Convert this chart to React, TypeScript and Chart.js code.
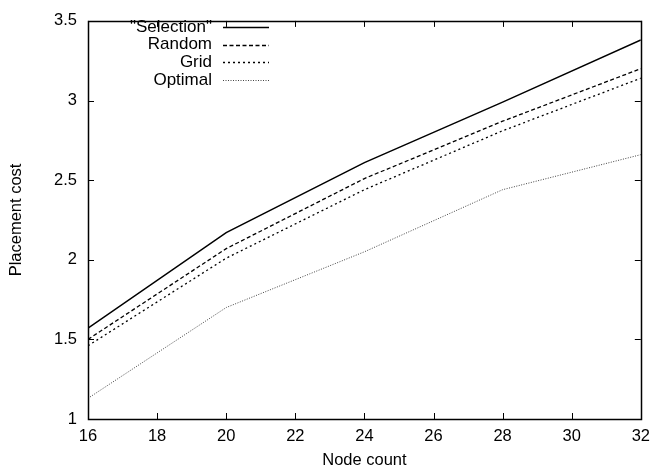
import React, { useEffect, useRef } from "react";
import { Chart, registerables } from "chart.js";

Chart.register(...registerables);

const nodeCounts = [16, 20, 24, 28, 32];
const selection = [1.57, 2.17, 2.61, 2.99, 3.38];
const random = [1.5, 2.07, 2.51, 2.87, 3.2];
const grid = [1.46, 2.01, 2.44, 2.81, 3.14];
const optimal = [1.13, 1.7, 2.05, 2.44, 2.66];

const seriesNames = ['"Selection"', "Random", "Grid", "Optimal"];
const xTickValues = [16, 18, 20, 22, 24, 26, 28, 30, 32];
const yTickValues = [1, 1.5, 2, 2.5, 3, 3.5];

const FONT = "Liberation Sans, Arial, sans-serif";
const FS = 16.5;
const LEGEND_FS = 17;

const framePlugin = {
  id: "frameTicks",
  afterDatasetsDraw(chart: any) {
    const { ctx, chartArea: a, scales } = chart;
    const x = scales.x;
    const y = scales.y;
    ctx.save();
    ctx.strokeStyle = "#000";
    ctx.lineWidth = 1;
    ctx.beginPath();
    const t = 6;
    xTickValues.forEach((v) => {
      const px = Math.round(x.getPixelForValue(v)) + 0.5;
      ctx.moveTo(px, a.bottom);
      ctx.lineTo(px, a.bottom - t);
      ctx.moveTo(px, a.top);
      ctx.lineTo(px, a.top + t);
    });
    yTickValues.forEach((v) => {
      const py = Math.round(y.getPixelForValue(v)) + 0.5;
      ctx.moveTo(a.left, py);
      ctx.lineTo(a.left + t, py);
      ctx.moveTo(a.right, py);
      ctx.lineTo(a.right - t, py);
    });
    ctx.stroke();
    ctx.lineWidth = 1.5;
    ctx.strokeRect(Math.round(a.left) + 0.5, Math.round(a.top) + 0.5, Math.round(a.right - a.left), Math.round(a.bottom - a.top));

    // legend
    const ds = chart.data.datasets;
    ctx.font = LEGEND_FS + "px " + FONT;
    ctx.textAlign = "right";
    ctx.textBaseline = "middle";
    ctx.fillStyle = "#000";
    const textRight = 212;
    const lineStart = 223;
    const lineEnd = 269;
    ds.forEach((d: any, i: number) => {
      const yy = 27 + i * 17.7;
      ctx.fillText(d.label, textRight, yy);
      ctx.save();
      ctx.strokeStyle = d.borderColor;
      ctx.lineWidth = d.borderWidth;
      ctx.setLineDash(d.borderDash || []);
      ctx.beginPath();
      ctx.moveTo(lineStart, Math.round(yy) + 0.5);
      ctx.lineTo(lineEnd, Math.round(yy) + 0.5);
      ctx.stroke();
      ctx.restore();
    });
    ctx.restore();
  },
};

export default function App() {
  const ref = useRef<HTMLCanvasElement>(null);
  useEffect(() => {
    if (!ref.current) return;
    const mk = (label: string, data: number[], dash: number[], width: number, color: string) => ({
      label,
      data: nodeCounts.map((n, i) => ({ x: n, y: data[i] })),
      borderColor: color,
      backgroundColor: color,
      borderWidth: width,
      borderDash: dash,
      pointRadius: 0,
      tension: 0,
      fill: false,
    });
    const chart = new Chart(ref.current, {
      type: "line",
      data: {
        datasets: [
          mk(seriesNames[0], selection, [], 1.5, "#000"),
          mk(seriesNames[1], random, [4, 2.5], 1.3, "#000"),
          mk(seriesNames[2], grid, [2, 3], 1.3, "#000"),
          mk(seriesNames[3], optimal, [1, 1.5], 1, "#444"),
        ],
      },
      options: {
        animation: false,
        responsive: false,
        layout: { padding: { top: 14, right: 14, left: 0, bottom: 0 } },
        plugins: { legend: { display: false }, tooltip: { enabled: false } },
        scales: {
          x: {
            type: "linear",
            min: 16,
            max: 32,
            afterBuildTicks: (s: any) => {
              s.ticks = xTickValues.map((v) => ({ value: v }));
            },
            afterFit: (s: any) => {
              s.height = 52;
            },
            grid: { display: false, drawTicks: false },
            border: { display: false },
            ticks: { color: "#000", font: { family: FONT, size: FS }, padding: 8, maxRotation: 0, callback: (v: any) => String(v) },
            title: { display: true, text: "Node count", color: "#000", font: { family: FONT, size: FS }, padding: { top: 2, bottom: 1 } },
          },
          y: {
            type: "linear",
            min: 1,
            max: 3.5,
            afterBuildTicks: (s: any) => {
              s.ticks = yTickValues.map((v) => ({ value: v }));
            },
            afterFit: (s: any) => {
              s.width = 88;
            },
            grid: { display: false, drawTicks: false },
            border: { display: false },
            ticks: { color: "#000", font: { family: FONT, size: FS }, padding: 11, callback: (v: any) => String(v) },
            title: { display: true, text: "Placement cost", color: "#000", font: { family: FONT, size: FS }, padding: { top: 7, bottom: 0 } },
          },
        },
      },
      plugins: [framePlugin],
    } as any);
    return () => chart.destroy();
  }, []);
  return (
    <div style={{ position: "fixed", left: 0, top: 0, width: 658, height: 471, background: "#fff" }}>
      <canvas ref={ref} width={658} height={471} />
    </div>
  );
}
